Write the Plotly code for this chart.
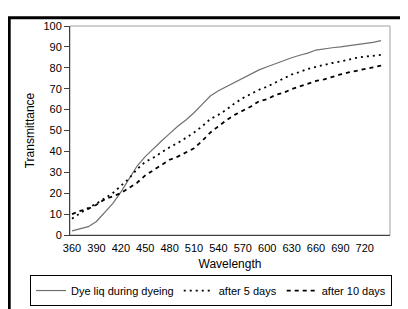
import plotly.graph_objects as go

wavelength = [360, 370, 380, 390, 400, 410, 420, 430, 440, 450, 460, 470, 480, 490, 500,
              510, 520, 530, 540, 550, 560, 570, 580, 590, 600, 610, 620, 630, 640, 650,
              660, 670, 680, 690, 700, 710, 720, 730, 740]

dye_liq = [2.0, 3.0, 4.0, 6.5, 10.5, 15, 20.5, 26.5, 33, 37.5, 41.5, 45, 48.5, 52, 55,
           58.5, 62.5, 66.5, 69, 71, 73, 75, 77, 79, 80.5, 82, 83.5, 84.8, 86, 87,
           88.5, 89.2, 89.6, 90, 90.5, 91, 91.5, 92.2, 93]

after_5 = [7.8, 10.5, 13, 15, 17.5, 20, 23.5, 27, 31.5, 35, 37, 39.5, 42, 44, 46.5,
           49, 52, 55.5, 57.5, 60, 63, 65.5, 67.5, 69.5, 71, 73, 75, 76.8, 78, 79.5,
           80.5, 81.5, 82.3, 83, 84, 84.8, 85.3, 85.8, 86.2]

after_10 = [10, 11.5, 12.5, 14.5, 17, 18.5, 20, 22.5, 25, 28.5, 31, 33.5, 36, 37.5, 39.5,
            41.5, 45, 49, 52, 55, 57.5, 59.5, 61.5, 64, 65, 67, 68, 69.8, 71, 72.3,
            73.7, 74.5, 75.8, 76.8, 77.8, 78.5, 79.4, 80.2, 81]

x_ticks = list(range(360, 721, 30))
y_ticks = list(range(0, 101, 10))

series_names = ["Dye liq during dyeing", "after 5 days", "after 10 days"]

FONT = "Liberation Sans, Arial, sans-serif"

# page body has an 8px margin, so the figure is drawn 8px in from the window edge
W, H = 400, 320
ML, MT, PW, PH = 62, 13, 320, 214

fig = go.Figure()
fig.add_trace(go.Scatter(x=wavelength, y=dye_liq, mode="lines", name=series_names[0],
                         line=dict(color="#707070", width=1.2)))
fig.add_trace(go.Scatter(x=wavelength, y=after_5, mode="lines", name=series_names[1],
                         line=dict(color="black", width=1.8, dash="2px,4px")))
fig.add_trace(go.Scatter(x=wavelength, y=after_10, mode="lines", name=series_names[2],
                         line=dict(color="black", width=1.8, dash="4px,4px")))

fig.update_layout(
    width=W, height=H,
    margin=dict(l=ML, r=W - ML - PW, t=MT, b=H - MT - PH),
    paper_bgcolor="white", plot_bgcolor="white",
    font=dict(family=FONT, size=11, color="black"),
    showlegend=True,
    legend=dict(orientation="h",
                x=(22 - ML) / PW, xanchor="left", y=-(268 - MT - PH) / PH, yanchor="top",
                bordercolor="black", borderwidth=1, font=dict(size=11),
                itemwidth=30, tracegroupgap=0),
    shapes=[
        dict(type="rect", xref="paper", yref="paper", x0=0, x1=1, y0=0, y1=1,
             line=dict(color="#a0a0a0", width=1), layer="below"),
        dict(type="rect", xref="paper", yref="paper", x0=-0.19, x1=1.2, y0=-0.6, y1=1.04,
             line=dict(color="black", width=3), layer="above"),
    ],
)

fig.update_xaxes(range=[357.5, 751], tickvals=x_ticks, ticktext=[str(v) for v in x_ticks],
                 showgrid=False, zeroline=False, showline=True, linecolor="#404040", linewidth=1,
                 ticks="", ticklabelstandoff=3, tickfont=dict(size=11),
                 title=dict(text="Wavelength", font=dict(size=12), standoff=6))
fig.update_yaxes(range=[0, 100], tickvals=y_ticks, ticktext=[str(v) for v in y_ticks],
                 showgrid=False, zeroline=False, showline=True, linecolor="#404040", linewidth=1,
                 ticks="outside", ticklen=5, tickcolor="#404040", tickfont=dict(size=11),
                 title=dict(text="Transmittance", font=dict(size=12), standoff=6))

fig.write_html("out.html")
